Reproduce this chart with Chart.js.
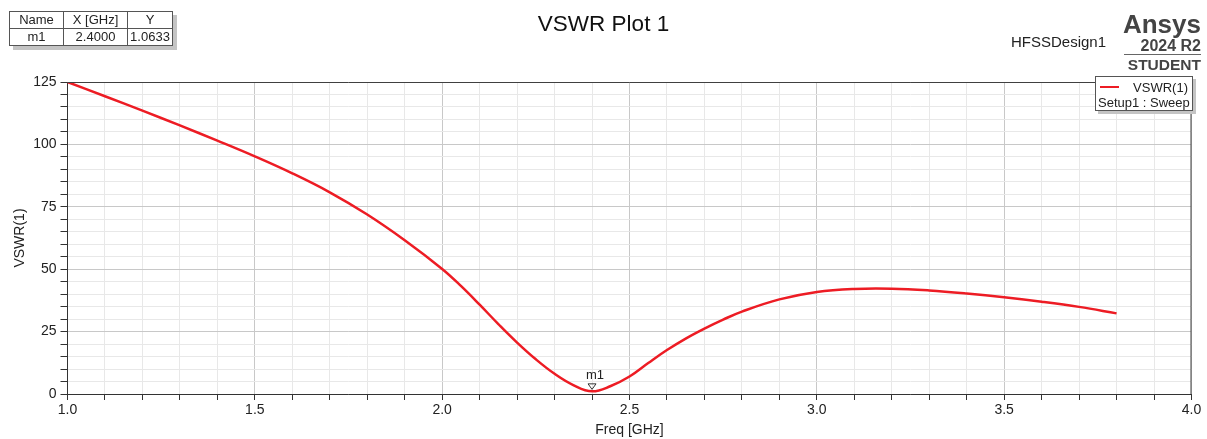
<!DOCTYPE html>
<html>
<head>
<meta charset="utf-8">
<script src="https://cdn.jsdelivr.net/npm/chart.js@4.4.1/dist/chart.umd.min.js"></script>
<style>
  body { margin: 0; background: #fff; font-family: "Liberation Sans", Arial, sans-serif; }
  #wrap { position: relative; width: 1207px; height: 439px; }
  #markers { position: absolute; left: 9px; top: 11px; border-collapse: collapse; background: #fff;
    box-shadow: 4px 4px 0 #c4c4c4; font-size: 13px; color: #222; }
  #markers td { border: 1px solid #555; text-align: center; padding: 0; height: 16px; line-height: 16px; }
  #design { position: absolute; left: 1011px; top: 33px; font-size: 15px; color: #222; }
  #logo { position: absolute; right: 6px; top: 10px; text-align: right; color: #444; font-weight: bold; }
  #logo .big { font-size: 26px; line-height: 28px; }
  #logo .ver { font-size: 16px; line-height: 16px; border-bottom: 1px solid #666; width: 77px; margin-left: auto; }
  #logo .stu { font-size: 15.5px; line-height: 20px; }
  #legend { position: absolute; left: 1095px; top: 76px; width: 96px; height: 33px; background: #fff;
    border: 1px solid #555; box-shadow: 3px 3px 0 #c4c4c4; font-size: 13px; color: #222; }
  #legend .sw { position: absolute; left: 4px; top: 9px; width: 19px; height: 2px; background: #ed1c24; }
  #legend .l1 { position: absolute; right: 4px; top: 3px; }
  #legend .l2 { position: absolute; left: 2px; top: 18px; white-space: nowrap; }
</style>
</head>
<body>
<div id="wrap">
  <canvas id="vswr"></canvas>
  <table id="markers">
    <tr><td style="width:53px">Name</td><td style="width:63px">X [GHz]</td><td style="width:44px">Y</td></tr>
    <tr><td id="mName"></td><td id="mX"></td><td id="mY"></td></tr>
  </table>
  <div id="design">HFSSDesign1</div>
  <div id="logo"><div class="big">Ansys</div><div class="ver">2024 R2</div><div class="stu">STUDENT</div></div>
  <div id="legend"><div class="sw"></div><div class="l1">VSWR(1)</div><div class="l2">Setup1 : Sweep</div></div>
</div>
<script>
// frequency sweep [GHz] and VSWR
const freqs = [1.0, 1.1, 1.2, 1.3, 1.4, 1.5, 1.6, 1.7, 1.8, 1.9, 2.0, 2.05, 2.1, 2.15, 2.2, 2.25, 2.3, 2.35, 2.4,
  2.45, 2.5, 2.55, 2.6, 2.65, 2.7, 2.75, 2.8, 2.9, 3.0, 3.1, 3.2, 3.3, 3.4, 3.5, 3.6, 3.7, 3.8];
const vswr = [125, 119.3, 113.5, 107.6, 101.5, 95.2, 88.4, 80.8, 71.9, 61.6, 50.1, 43.3, 35.8, 28.0, 20.6, 13.9, 8.1, 3.6, 1.0633,
  3.2, 7.0, 12.4, 17.6, 22.2, 26.2, 29.8, 33.0, 37.9, 40.9, 42.1, 42.2, 41.5, 40.3, 38.8, 37.0, 34.9, 32.3];

// marker
const markerName = "m1";
const markerX = 2.4;
const markerY = 1.0633;

// axes
const xMin = 1, xMax = 4, xMinorStep = 0.1, xMajorStep = 0.5;
const yMin = 0, yMax = 125, yMinorStep = 5, yMajorStep = 25;

document.getElementById("mName").textContent = markerName;
document.getElementById("mX").textContent = markerX.toFixed(4);
document.getElementById("mY").textContent = markerY.toFixed(4);

function isMajor(v, step) {
  const r = v / step;
  return Math.abs(r - Math.round(r)) < 1e-6;
}

const frame = {
  id: "frame",
  afterDraw(chart) {
    const { ctx, chartArea: a, scales } = chart;
    ctx.save();
    ctx.strokeStyle = "#404040";
    ctx.lineWidth = 1;
    ctx.beginPath();
    ctx.moveTo(a.left, a.top + 0.5);
    ctx.lineTo(a.right - 0.5, a.top + 0.5);
    ctx.lineTo(a.right - 0.5, a.bottom);
    ctx.stroke();
    // marker triangle + label
    const px = scales.x.getPixelForValue(markerX);
    const py = scales.y.getPixelForValue(markerY);
    ctx.strokeStyle = "#333";
    ctx.beginPath();
    ctx.moveTo(px - 4, py - 7.5);
    ctx.lineTo(px + 4, py - 7.5);
    ctx.lineTo(px, py - 2);
    ctx.closePath();
    ctx.stroke();
    ctx.fillStyle = "#222";
    ctx.font = "13px 'Liberation Sans', Arial, sans-serif";
    ctx.textBaseline = "bottom";
    ctx.fillText(markerName, px - 6, py - 9);
    ctx.restore();
  }
};

const ctx = document.getElementById("vswr").getContext("2d");
const chart = new Chart(ctx, {
  type: "line",
  data: {
    datasets: [
      {
        label: "VSWR(1)",
        data: freqs.map((f, i) => ({ x: f, y: vswr[i] })),
        borderColor: "#ed1c24",
        borderWidth: 2.5,
        pointRadius: 0,
        tension: 0.4,
        fill: false,
      },
    ],
  },
  options: {
    responsive: true,
    maintainAspectRatio: false,
    animation: false,
    layout: { padding: 0 },
    plugins: {
      legend: { display: false },
      tooltip: { enabled: false },
      title: {
        display: true,
        text: "VSWR Plot 1",
        color: "#111",
        font: { family: "'Liberation Sans', Arial, sans-serif", size: 22.5, weight: "normal", lineHeight: 1.2 },
        padding: { top: 11, bottom: 44 },
      },
    },
    scales: {
      x: {
        type: "linear",
        min: xMin,
        max: xMax,
        afterFit: (s) => { s.height = 45; },
        ticks: {
          stepSize: xMinorStep,
          autoSkip: false,
          maxRotation: 0,
          padding: 2,
          color: "#222",
          font: { family: "'Liberation Sans', Arial, sans-serif", size: 14 },
          callback: (v) => (isMajor(v, xMajorStep) ? v.toFixed(1) : ""),
        },
        grid: {
          color: (c) => (isMajor(c.tick.value, xMajorStep) ? "#c8c8c8" : "#e8e8e8"),
          tickColor: "#333",
          tickLength: 6,
        },
        border: { color: "#333", width: 1 },
        title: {
          display: true,
          text: "Freq [GHz]",
          color: "#222",
          font: { family: "'Liberation Sans', Arial, sans-serif", size: 14 },
          padding: { top: 0, bottom: 0 },
        },
      },
      y: {
        min: yMin,
        max: yMax,
        afterFit: (s) => { s.width = 67.5; },
        ticks: {
          stepSize: yMinorStep,
          autoSkip: false,
          padding: 4,
          color: "#222",
          font: { family: "'Liberation Sans', Arial, sans-serif", size: 14 },
          callback: (v) => (isMajor(v, yMajorStep) ? String(v) : ""),
        },
        grid: {
          color: (c) => (isMajor(c.tick.value, yMajorStep) ? "#c8c8c8" : "#e8e8e8"),
          tickColor: "#333",
          tickLength: 7,
        },
        border: { color: "#333", width: 1 },
        title: {
          display: true,
          text: "VSWR(1)",
          color: "#222",
          font: { family: "'Liberation Sans', Arial, sans-serif", size: 14 },
          padding: { top: 12, bottom: 0 },
        },
      },
      // empty spacer on the right so the plot ends where the reference does
      pad: {
        type: "linear",
        position: "right",
        min: 0,
        max: 1,
        afterFit: (s) => { s.width = 15.5; },
        ticks: { display: false },
        grid: { display: false },
        border: { display: false },
      },
    },
  },
  plugins: [frame],
});
</script>
</body>
</html>
